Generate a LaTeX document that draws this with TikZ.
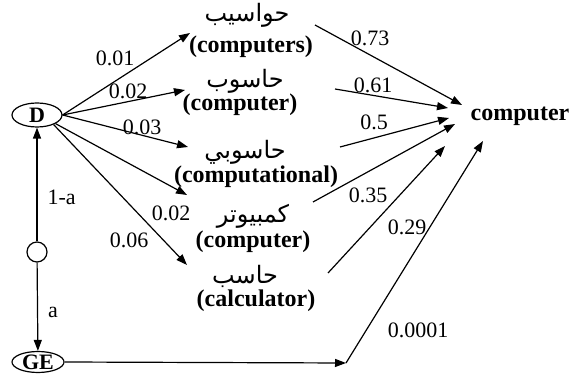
\documentclass[tikz,border=0pt]{standalone}
\usepackage{fontspec}
\setmainfont{Liberation Serif}
\newfontfamily\arabicfont[Script=Arabic]{DejaVu Sans}
\TeXXeTstate=1
\usetikzlibrary{shapes.geometric,arrows.meta,positioning}

\tikzset{
  arr/.style={-{Triangle[length=5.5pt,width=4pt]}, line width=0.6pt},
  state/.style={ellipse, draw, line width=0.6pt, inner sep=0pt, minimum width=25pt, minimum height=12pt, font=\fontsize{11}{13}\selectfont\bfseries},
  word/.style={inner sep=0.5pt, font=\fontsize{12}{14}\selectfont\bfseries},
  arab/.style={inner sep=0pt, font=\fontsize{12}{14}\selectfont\arabicfont},
  prob/.style={inner sep=1pt, font=\fontsize{11}{13}\selectfont},
}

\begin{document}
\begin{tikzpicture}[x=0.5pt, y=-0.5pt]
    \useasboundingbox (0,0) rectangle (571,378);

    % left: D, GE and the mixing point
    \node[state] (D) at (37,115) {D};
    \node[state, minimum width=26pt, minimum height=10.5pt] (GE) at (38,362) {GE};
    \node[circle, draw, line width=0.6pt, minimum size=10pt, inner sep=0pt] (mix) at (37,252) {};
    \draw[arr] (mix) -- node[prob, right=4pt, pos=0.39] (la) {1-a} (D);
    \draw[arr] (mix) -- node[prob, right=4pt, pos=0.57] (lb) {a} (GE);

    % candidate words
    \node[arab] (ar1) at (247,15) {\beginR حواسيب\endR};
    \node[word] (en1) at (251,47) {(computers)};
    \node[arab] (ar2) at (245,81) {\beginR حاسوب\endR};
    \node[word] (en2) at (240,105) {(computer)};
    \node[arab] (ar3) at (245,152) {\beginR حاسوبي\endR};
    \node[word] (en3) at (256,177) {(computational)};
    \node[arab] (ar4) at (253,216) {\beginR كمبيوتر\endR};
    \node[word] (en4) at (253,242) {(computer)};
    \node[arab] (ar5) at (245,276) {\beginR حاسب\endR};
    \node[word] (en5) at (256,301) {(calculator)};

    \node[word] (cmp) at (520,116) {computer};

    % free ends of the connectors
    \coordinate (t1) at (190,33);
    \coordinate (t2) at (185,90);
    \coordinate (t3) at (188,147);
    \coordinate (t4) at (187,195);
    \coordinate (t5) at (187,265);
    \coordinate (s1) at (315,25);
    \coordinate (s2) at (335,89);
    \coordinate (s3) at (340,147);
    \coordinate (s4) at (313,202);
    \coordinate (s5) at (328,273);
    \coordinate (c1) at (462,105);
    \coordinate (c2) at (448,108);
    \coordinate (c3) at (449,118);
    \coordinate (c4) at (455,124);
    \coordinate (c5) at (445,146);
    \coordinate (c6) at (483,141);
    \coordinate (bend) at (346,363);

    % D -> words
    \draw[arr] (D.east) -- (t1);
    \draw[arr] (D.east) -- (t2);
    \draw[arr] (D.east) -- (t3);
    \draw[arr] (D.-25) -- (t4);
    \draw[arr] (D.-30) -- (t5);

    % words -> computer
    \draw[arr] (s1) -- (c1);
    \draw[arr] (s2) -- (c2);
    \draw[arr] (s3) -- (c3);
    \draw[arr] (s4) -- (c4);
    \draw[arr] (s5) -- (c5);

    % GE -> computer
    \draw[arr] (GE.east) -- (bend);
    \draw[arr] (bend) -- (c6);

    % probabilities
    \node[prob] (p1) at (115,58) {0.01};
    \node[prob] (p2) at (128,91) {0.02};
    \node[prob] (p3) at (142,127) {0.03};
    \node[prob] (p4) at (171,213) {0.02};
    \node[prob] (p5) at (129,240) {0.06};
    \node[prob] (q1) at (370,38) {0.73};
    \node[prob] (q2) at (373,85) {0.61};
    \node[prob] (q3) at (374,122) {0.5};
    \node[prob] (q4) at (368,195) {0.35};
    \node[prob] (q5) at (407,227) {0.29};
    \node[prob] (q6) at (418,330) {0.0001};
\end{tikzpicture}
\end{document}
